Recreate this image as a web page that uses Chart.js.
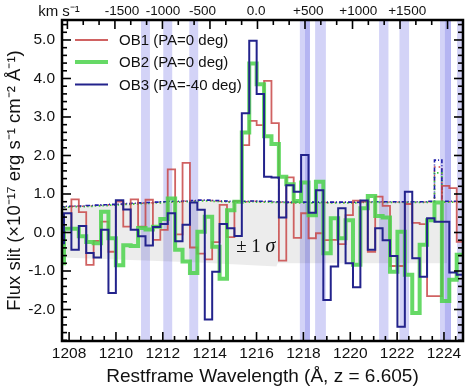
<!DOCTYPE html>
<html><head><meta charset="utf-8">
<script src="https://cdn.jsdelivr.net/npm/chart.js@4.4.1/dist/chart.umd.min.js"></script>
<style>html,body{margin:0;padding:0;background:#fff}#wrap{width:469px;height:391px;position:relative}</style>
</head><body><div id="wrap"><canvas id="c" width="469" height="391"></canvas></div>
<script>
// ---------- data ----------
const binCenters = [1207.624,1207.940,1208.256,1208.573,1208.889,1209.205,1209.521,1209.838,1210.154,1210.470,
 1210.786,1211.103,1211.419,1211.735,1212.051,1212.368,1212.684,1213.000,1213.316,1213.633,
 1213.949,1214.265,1214.581,1214.898,1215.214,1215.530,1215.847,1216.163,1216.479,1216.795,
 1217.112,1217.428,1217.744,1218.060,1218.377,1218.693,1219.009,1219.325,1219.642,1219.958,
 1220.274,1220.590,1220.907,1221.223,1221.539,1221.855,1222.172,1222.488,1222.804,1223.120,
 1223.437,1223.753,1224.069,1224.385,1224.702,1225.018];
const fluxOB1 = [0.11,0.11,0.86,0.53,-0.84,-0.22,0.28,-0.50,0.80,0.15,
 0.86,0.15,0.85,-0.19,0.07,1.64,-0.05,1.81,-0.39,-0.55,
 -0.70,-0.25,0.72,-0.12,0.82,2.27,2.90,2.79,3.94,2.84,
 -0.73,1.43,-0.14,0.50,-0.15,-0.02,-0.20,-0.19,-0.30,0.45,
 0.83,0.80,-0.50,0.93,0.69,-0.87,-0.87,0.74,0.25,0.22,
 -1.65,-1.65,1.21,1.15,-0.24,-0.24];
const fluxOB2 = [-0.80,0.10,0.10,-0.10,-0.25,-0.28,0.54,-0.15,-0.85,-0.33,
 -0.35,0.12,0.08,0.15,0.35,0.88,-0.45,-0.75,-1.05,0.02,
 0.41,-0.37,-1.20,0.58,0.80,2.60,4.39,3.85,2.50,2.30,
 1.45,1.25,0.82,1.30,0.45,1.32,-0.54,0.37,-0.15,0.32,
 -0.84,0.63,0.95,0.43,0.39,-1.02,0.02,-1.10,-2.09,-0.32,
 0.32,0.78,-1.78,-1.23,-0.58,-0.58];
const fluxOB3 = [-0.28,0.50,-0.45,0.17,-0.53,-0.65,0.07,-1.57,0.84,0.60,
 0.07,-0.10,-0.34,0.14,0.22,0.50,-0.23,0.20,0.78,0.59,
 -2.26,-1.02,0.22,0.11,-0.09,3.10,4.98,3.60,1.45,1.43,
 0.39,1.23,1.06,2.01,0.51,1.10,-1.75,-0.88,0.63,-0.80,
 -1.42,0.83,-0.45,0.11,-0.20,-0.61,-2.45,1.06,-0.67,-1.15,
 0.37,0.28,0.28,-1.04,-1.10,-1.10];
const noiseOB1 = [0.66,0.67,0.68,0.68,0.69,0.70,0.71,0.72,0.73,0.74,
 0.75,0.76,0.77,0.78,0.79,0.80,0.80,0.81,0.82,0.83,
 0.83,0.82,0.81,0.80,0.80,0.80,0.81,0.80,0.80,0.79,
 0.79,0.78,0.78,0.78,0.78,0.78,0.78,0.78,0.78,0.78,
 0.78,0.79,0.79,0.79,0.79,0.79,0.79,0.79,0.79,0.79,
 0.80,1.70,0.80,0.80,0.80,0.80];
const noiseOB2 = [0.65,0.66,0.67,0.67,0.68,0.69,0.70,0.71,0.72,0.73,
 0.74,0.75,0.76,0.77,0.78,0.79,0.79,0.80,0.81,0.82,
 0.82,0.81,0.80,0.79,0.79,0.79,0.80,0.79,0.79,0.78,
 0.78,0.77,0.77,0.77,0.77,0.77,0.77,0.77,0.77,0.77,
 0.77,0.78,0.78,0.78,0.78,0.78,0.78,0.78,0.78,0.78,
 0.79,1.55,0.79,0.79,0.79,0.79];
const noiseOB3 = [0.67,0.68,0.69,0.69,0.70,0.71,0.72,0.73,0.74,0.75,
 0.76,0.77,0.78,0.79,0.80,0.81,0.81,0.82,0.83,0.84,
 0.84,0.83,0.82,0.81,0.81,0.81,0.82,0.81,0.81,0.80,
 0.80,0.79,0.79,0.79,0.79,0.79,0.79,0.79,0.79,0.79,
 0.79,0.80,0.80,0.80,0.80,0.80,0.80,0.80,0.80,0.80,
 0.81,1.88,0.81,0.81,0.81,0.81];
const sigmaWl = [1207.70, 1213.50, 1216.85, 1216.90, 1224.15];
const sigmaUpper = [0.65, 0.80, 0.80, 0.80, 0.80];
const sigmaLower = [-0.65, -0.78, -0.88, -0.80, -0.80];
const skyStart = [1211.07, 1212.02, 1213.13, 1217.85, 1218.07, 1218.50, 1221.23, 1222.10, 1223.83, 1224.04, 1224.56];
const skyEnd   = [1211.45, 1212.40, 1213.51, 1218.28, 1218.28, 1218.96, 1221.63, 1222.51, 1224.30, 1224.30, 1224.86];
const xTickValues = [1208, 1210, 1212, 1214, 1216, 1218, 1220, 1222, 1224];
const yTickValues = [-2, -1, 0, 1, 2, 3, 4, 5];
const velocityLabels = ['-1500', '-1000', '-500', '0.0', '+500', '+1000', '+1500'];
const velocityLabelWl = [1210.26, 1212.01, 1213.69, 1215.98, 1218.21, 1220.34, 1222.43];
const velocityZeroWl = 1216.04;
const seriesNames = ['OB1 (PA=0 deg)', 'OB2 (PA=0 deg)', 'OB3 (PA=-40 deg)'];
const sigmaLabelPos = [1215.97, -0.38];

// ---------- chart ----------
const FONT = "'Liberation Sans', Arial, Helvetica, sans-serif";
Chart.defaults.font.family = FONT;
Chart.defaults.color = '#000';

const RED = 'rgba(200,70,70,0.85)', GREEN = 'rgba(75,210,75,0.85)', BLUE = 'rgb(35,35,140)';
const pts = arr => binCenters.map((x, i) => ({x, y: arr[i]}));
const stepLine = (label, arr, color, width, order, extra) => Object.assign({
  label, data: pts(arr), borderColor: color, borderWidth: width, stepped: 'middle',
  pointRadius: 0, fill: false, order, borderJoinStyle: 'miter'
}, extra || {});

const decor = {
  id: 'decor',
  beforeDatasetsDraw(chart) {
    const {ctx, chartArea: a, scales: {x}} = chart;
    ctx.save();
    ctx.beginPath(); ctx.rect(a.left, a.top, a.right - a.left, a.bottom - a.top); ctx.clip();
    ctx.fillStyle = 'rgba(110,110,230,0.30)';
    for (let i = 0; i < skyStart.length; i++) {
      const x0 = x.getPixelForValue(skyStart[i]), x1 = x.getPixelForValue(skyEnd[i]);
      ctx.fillRect(x0, a.top, x1 - x0, a.bottom - a.top);
    }
    ctx.restore();
  },
  afterDatasetsDraw(chart) {
    const {ctx, chartArea: a, scales: {x, y}} = chart;
    ctx.save();
    // sigma label
    ctx.fillStyle = '#111';
    ctx.textBaseline = 'middle';
    const sx = x.getPixelForValue(sigmaLabelPos[0]), sy = y.getPixelForValue(sigmaLabelPos[1]);
    const t1 = '\u00B1 1 ';
    ctx.font = "19px 'Liberation Serif', serif";
    const w1 = ctx.measureText(t1).width;
    ctx.font = "italic 20px 'Liberation Serif', serif";
    const w2 = ctx.measureText('\u03C3').width;
    const lx = sx - (w1 + w2) / 2;
    ctx.textAlign = 'left';
    ctx.font = "19px 'Liberation Serif', serif";
    ctx.fillText(t1, lx, sy);
    ctx.font = "italic 20px 'Liberation Serif', serif";
    ctx.fillText('\u03C3', lx + w1, sy);

    // ticks (inward)
    ctx.strokeStyle = '#000';
    ctx.lineWidth = 1.6;
    const seg = (x0, y0, x1, y1) => { ctx.beginPath(); ctx.moveTo(x0, y0); ctx.lineTo(x1, y1); ctx.stroke(); };
    for (let k = Math.ceil(y.min / 0.2); k <= Math.floor(y.max / 0.2); k++) {
      const py = y.getPixelForValue(k * 0.2);
      const len = (k % 5 === 0) ? 9 : 5;
      seg(a.left, py, a.left + len, py);
      seg(a.right, py, a.right - len, py);
    }
    for (let k = Math.ceil(x.min / 0.5); k <= Math.floor(x.max / 0.5); k++) {
      const px = x.getPixelForValue(k * 0.5);
      const len = (k % 4 === 0) ? 9 : 5;
      seg(px, a.bottom, px, a.bottom - len);
    }
    const c = 299792.458;
    for (let k = -12; k <= 12; k++) {
      const v = k * 500 / 3;
      const px = x.getPixelForValue(velocityZeroWl * (1 + v / c));
      if (px < a.left + 1 || px > a.right - 1) continue;
      const len = (k % 3 === 0) ? 9 : 5;
      seg(px, a.top, px, a.top + len);
    }
    // frame
    ctx.lineWidth = 2.5;
    ctx.strokeRect(a.left, a.top, a.right - a.left, a.bottom - a.top);

    // legend
    const ds = chart.data.datasets;
    const legendSets = [ds[2], ds[1], ds[0]];
    const rows = [40, 62, 84.5];
    ctx.font = '15px ' + FONT;
    ctx.textAlign = 'left';
    ctx.textBaseline = 'middle';
    legendSets.forEach((d, i) => {
      ctx.strokeStyle = d.borderColor;
      ctx.lineWidth = d.borderWidth;
      seg(75, rows[i], 108, rows[i]);
      ctx.fillStyle = '#111';
      ctx.fillText(seriesNames[i], 119, rows[i] + 1);
    });

    // velocity unit
    ctx.font = '15px ' + FONT;
    ctx.textAlign = 'center';
    ctx.textBaseline = 'alphabetic';
    ctx.fillText('km s\u207B\u00B9', 59, 16);
    ctx.restore();
  }
};

new Chart(document.getElementById('c'), {
  type: 'line',
  data: {
    datasets: [
      stepLine(seriesNames[2], fluxOB3, BLUE, 2, 1),
      stepLine(seriesNames[1], fluxOB2, GREEN, 4, 2),
      stepLine(seriesNames[0], fluxOB1, RED, 1.8, 3),
      stepLine('noise OB3', noiseOB3, 'rgb(30,30,170)', 1.6, 4, {borderDash: [4, 2, 1, 2]}),
      stepLine('noise OB2', noiseOB2, 'rgb(60,200,60)', 1.8, 5, {borderDash: [1.5, 2.5]}),
      stepLine('noise OB1', noiseOB1, 'rgb(210,70,70)', 1.4, 6, {borderDash: [1.5, 3]}),
      {label: 'sigma+', data: sigmaWl.map((x, i) => ({x, y: sigmaUpper[i]})), borderWidth: 0, pointRadius: 0,
       fill: '+1', backgroundColor: 'rgba(0,0,0,0.075)', order: 7},
      {label: 'sigma-', data: sigmaWl.map((x, i) => ({x, y: sigmaLower[i]})), borderWidth: 0, pointRadius: 0,
       fill: false, order: 8}
    ]
  },
  options: {
    responsive: false,
    animation: false,
    devicePixelRatio: 1,
    layout: {padding: {left: 0, right: 6, top: 0, bottom: 0}},
    plugins: {legend: {display: false}, tooltip: {enabled: false}},
    scales: {
      x: {
        type: 'linear', position: 'bottom', min: 1207.697, max: 1224.812,
        grid: {display: false, drawTicks: false}, border: {display: false},
        afterBuildTicks: s => { s.ticks = xTickValues.map(v => ({value: v})); },
        afterFit: s => { s.height = 50; },
        ticks: {autoSkip: false, maxRotation: 0, padding: 3, font: {size: 15.5}, color: '#111',
                callback: v => String(v)},
        title: {display: true, text: 'Restframe Wavelength (\u00C5, z = 6.605)', font: {size: 19},
                color: '#111', padding: {top: 0, bottom: 3}}
      },
      x2: {
        type: 'linear', axis: 'x', position: 'top', min: 1207.697, max: 1224.812,
        grid: {display: false, drawTicks: false}, border: {display: false},
        afterBuildTicks: s => { s.ticks = velocityLabelWl.map(v => ({value: v})); },
        afterFit: s => { s.height = 20; },
        ticks: {autoSkip: false, maxRotation: 0, padding: 1, font: {size: 13.5}, color: '#111',
                callback: (v, i) => velocityLabels[i]}
      },
      y: {
        type: 'linear', position: 'left', min: -2.818, max: 5.519,
        grid: {display: false, drawTicks: false}, border: {display: false},
        afterBuildTicks: s => { s.ticks = yTickValues.map(v => ({value: v})); },
        afterFit: s => { s.width = 62; },
        ticks: {autoSkip: false, padding: 7, font: {size: 15.5}, color: '#111',
                callback: v => v.toFixed(1)},
        title: {display: true, text: 'Flux slit (\u00D710\u207B\u00B9\u2077 erg s\u207B\u00B9 cm\u207B\u00B2 \u00C5\u207B\u00B9)',
                font: {size: 18.5}, color: '#111', padding: {top: 4, bottom: 0}}
      }
    }
  },
  plugins: [decor]
});
</script></body></html>
